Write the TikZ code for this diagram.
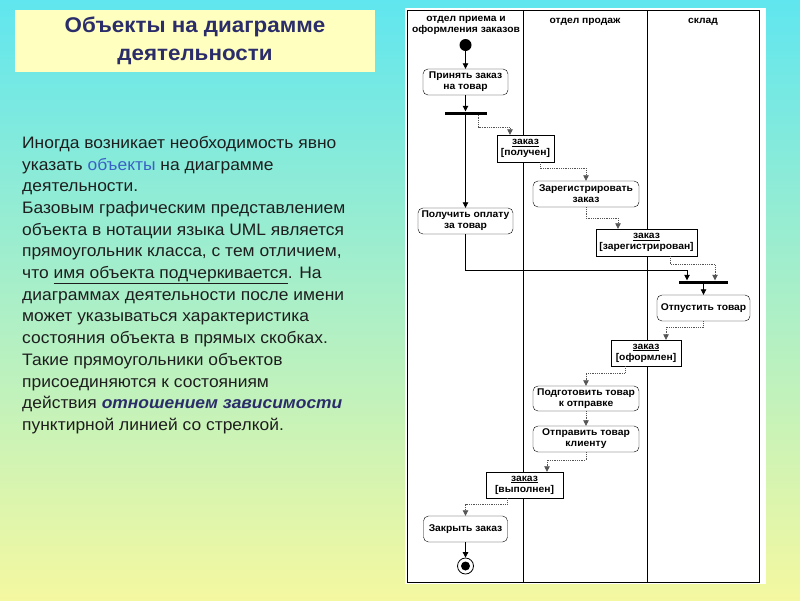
\documentclass[tikz,border=0pt]{standalone}
\usepackage{fontspec}
\setmainfont{Liberation Sans}
\newfontfamily\widesans[FakeStretch=1.05]{Liberation Sans}
\usetikzlibrary{arrows.meta}
\definecolor{bgtop}{HTML}{60E6EF}
\definecolor{bgmid}{HTML}{A8F0CC}
\definecolor{bgbot}{HTML}{F4F8A0}
\definecolor{titlefill}{HTML}{FFFFC0}
\definecolor{titletext}{HTML}{2B2D6B}
\definecolor{bodytext}{HTML}{1E1E1E}
\definecolor{linkblue}{HTML}{3A62C4}
\definecolor{depgray}{HTML}{555555}
\begin{document}
\begin{tikzpicture}[x=1pt,y=-1pt,
  action/.style={draw, rounded corners=5pt, fill=white, align=center, inner sep=1pt,
    font=\widesans\bfseries\fontsize{9.8}{11}\selectfont},
  objbox/.style={draw, fill=white, align=center, inner sep=1pt,
    font=\widesans\bfseries\fontsize{9.8}{11}\selectfont},
  forkbar/.style={fill=black, draw=none, minimum height=3pt, inner sep=0pt},
  lanehead/.style={font=\widesans\bfseries\fontsize{9.8}{11}\selectfont, align=center},
  flow/.style={-{Triangle[length=5.5pt,width=5.5pt]}, black, line width=0.8pt},
  dep/.style={densely dotted, depgray, line width=0.8pt, -{Triangle[length=5.5pt,width=5.5pt]}}
]
\useasboundingbox (0,0) rectangle (800,600);
\shade[top color=bgtop, middle color=bgmid, bottom color=bgbot] (0,0) rectangle (800,600);

% title
\node[fill=titlefill, minimum width=360pt, minimum height=62pt, inner sep=0pt,
      font=\widesans\bfseries\fontsize{21.3}{28}\selectfont, text=titletext, align=center]
  (title) at (195,41) {Объекты на диаграмме\\деятельности};

% body text
\node[anchor=north west, align=left, inner sep=0pt, text=bodytext,
      font=\widesans\fontsize{16.6}{21.7}\selectfont] (body) at (22,136)
{Иногда возникает необходимость явно\\
указать \textcolor{linkblue}{объекты} на диаграмме\\
деятельности.\\
Базовым графическим представлением\\
объекта в нотации языка UML является\\
прямоугольник класса, с тем отличием,\\
что \underline{имя объекта подчеркивается}. На\\
диаграммах деятельности после имени\\
может указываться характеристика\\
состояния объекта в прямых скобках.\\
Такие прямоугольники объектов\\
присоединяются к состояниям\\
действия \textcolor{titletext}{\textbf{\textit{отношением зависимости}}}\\
пунктирной линией со стрелкой.};

% diagram panel
\fill[white] (405,8) rectangle (766,584);
\draw[line width=0.8pt] (407,10) rectangle (759,582);
\draw[line width=0.8pt] (523,10) -- (523,582);
\draw[line width=0.8pt] (647,10) -- (647,582);

\node[lanehead] (h1) at (466,25) {отдел приема и\\оформления заказов};
\node[lanehead] (h2) at (585,22) {отдел продаж};
\node[lanehead] (h3) at (703,22) {склад};

% nodes
\node[circle, fill=black, minimum size=12pt, inner sep=0pt] (init) at (465.5,45) {};
\node[action, minimum width=85pt, minimum height=26pt] (a1) at (465.5,82) {Принять заказ\\на товар};
\node[forkbar, minimum width=42pt] (f1) at (465.5,113) {};
\node[objbox, minimum width=57pt, minimum height=27pt] (o1) at (525.5,148.5) {\underline{заказ}\\{}[получен]};
\node[action, minimum width=106pt, minimum height=26pt] (a2) at (586,194) {Зарегистрировать\\заказ};
\node[action, minimum width=95pt, minimum height=26pt] (a3) at (465.5,221) {Получить оплату\\за товар};
\node[objbox, minimum width=101pt, minimum height=27pt] (o2) at (646.5,242.5) {\underline{заказ}\\{}[зарегистрирован]};
\node[forkbar, minimum width=49pt] (f2) at (703.5,282) {};
\node[action, minimum width=93pt, minimum height=26pt] (a4) at (703.5,308) {Отпустить товар};
\node[objbox, minimum width=70pt, minimum height=26pt] (o3) at (646,353) {\underline{заказ}\\{}[оформлен]};
\node[action, minimum width=106pt, minimum height=25pt] (a5) at (586,398.5) {Подготовить товар\\к отправке};
\node[action, minimum width=106pt, minimum height=26pt] (a6) at (586,439) {Отправить товар\\клиенту};
\node[objbox, minimum width=77pt, minimum height=26pt] (o4) at (524.5,485) {\underline{заказ}\\{}[выполнен]};
\node[action, minimum width=84pt, minimum height=26pt] (a7) at (465.5,529) {Закрыть заказ};
\node[circle, draw, line width=0.8pt, fill=white, minimum size=16pt, inner sep=0pt] (fin) at (465.5,566) {};
\node[circle, fill=black, minimum size=9pt, inner sep=0pt] (fininner) at (fin.center) {};

\coordinate (j1) at (687,270);

% control flows
\draw[flow] (init) -- (a1);
\draw[flow] (a1) -- (f1);
\draw[flow] (f1) -- (a3);
\draw[flow] (a3.south) |- (j1) -- (j1 |- f2.north);
\draw[flow] (f2) -- (a4);
\draw[flow] (a7) -- (fin);

% dependencies
\draw[dep] ([xshift=13pt]f1.south) -- ++(0,13) -| ([xshift=-15.5pt]o1.north);
\draw[dep] ([xshift=14.5pt]o1.south) -- ++(0,6) -| (a2.north);
\draw[dep] (a2.south) -- ++(0,11) -| ([xshift=-28.5pt]o2.north);
\draw[dep] ([xshift=23.5pt]o2.south) -- ++(0,8) -| ([xshift=11.5pt]f2.north);
\draw[dep] (a4.south) -- ++(0,6) -| ([xshift=20pt]o3.north);
\draw[dep] ([xshift=-21pt]o3.south) -- ++(0,7) -| (a5.north);
\draw[dep] (a5) -- (a6);
\draw[dep] (a6.south) -- ++(0,8) -| ([xshift=22.5pt]o4.north);
\draw[dep] ([xshift=-17.5pt]o4.south) -- ++(0,6) -| (a7.north);
\end{tikzpicture}
\end{document}
